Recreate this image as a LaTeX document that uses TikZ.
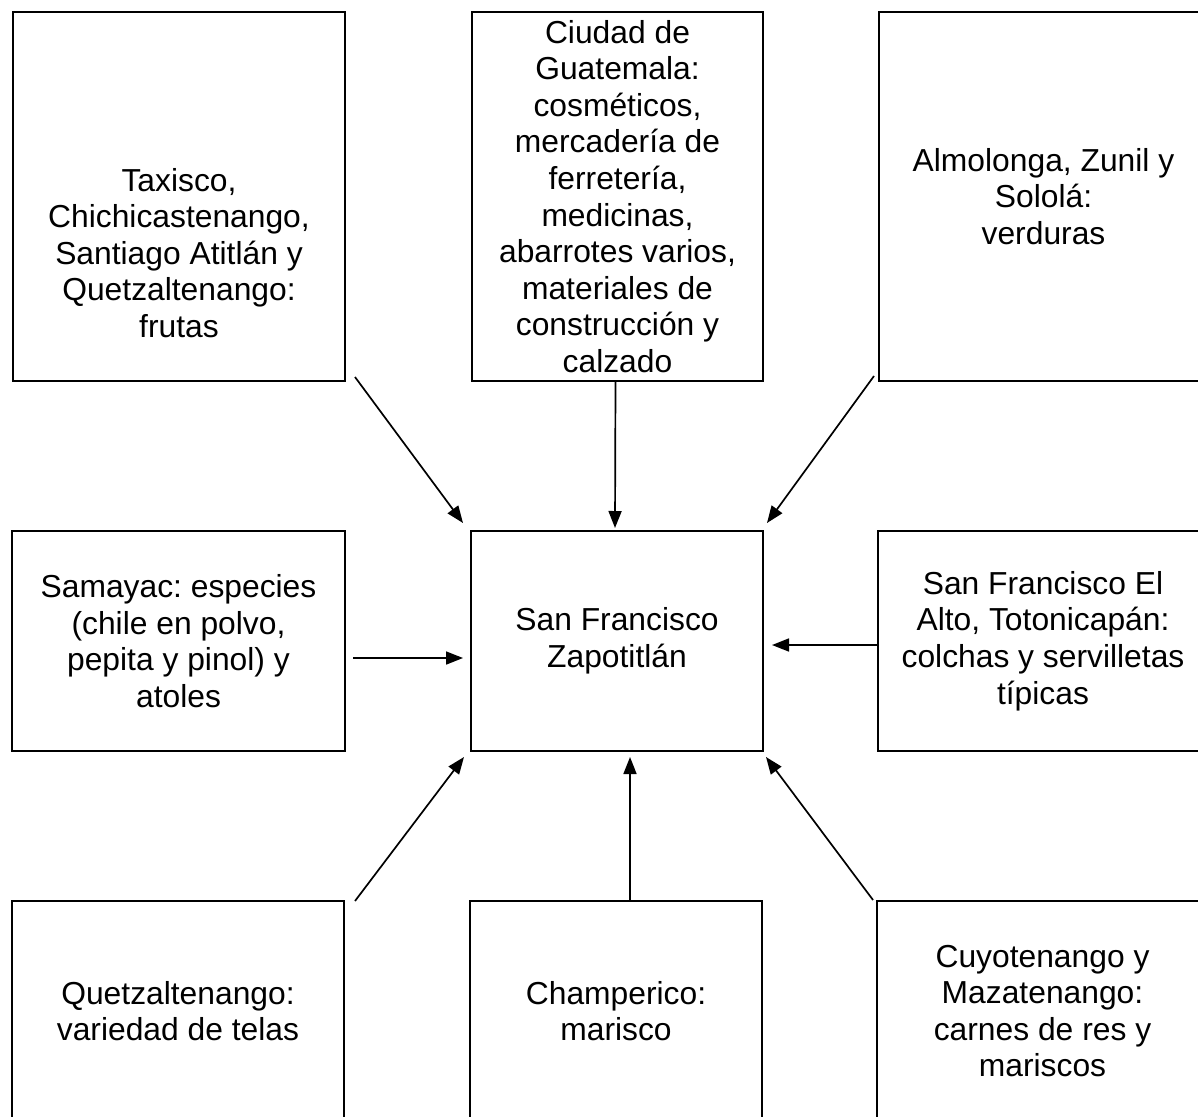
\documentclass[tikz,border=0pt]{standalone}
\usepackage{fontspec}
\setmainfont{Liberation Sans}
\usetikzlibrary{arrows.meta}
\frenchspacing
\begin{document}
\begin{tikzpicture}[x=1pt,y=-1pt,
  box/.style={draw=black, line width=1.3pt, inner sep=0pt, outer sep=0pt, align=center,
    font=\fontsize{31.8}{36.6}\selectfont},
  lbl/.style={inner sep=0pt, align=center, font=\fontsize{31.8}{36.6}\selectfont},
  arr/.style={line width=1.7pt, -{Triangle[length=17pt,width=13pt]}}]
\useasboundingbox (0,0) rectangle (1198,1116);
\clip (0,0) rectangle (1198,1116);
\fill[white] (0,0) rectangle (1198,1116);
% top row
\node[box, minimum width=332pt, minimum height=369pt] (tl) at (179,196.5) {};
\node[lbl] (tlt) at (179,253) {Taxisco,\\Chichicastenango,\\Santiago Atitlán y\\Quetzaltenango:\\frutas};
\node[box, minimum width=291pt, minimum height=369pt] (tc) at (617.5,196.5) {Ciudad de\\Guatemala:\\cosméticos,\\mercadería de\\ferretería,\\medicinas,\\abarrotes varios,\\materiales de\\construcción y\\calzado};
\node[box, minimum width=329pt, minimum height=369pt] (tr) at (1043.5,196.5) {Almolonga, Zunil y\\Sololá:\\verduras};
% middle row
\node[box, minimum width=333pt, minimum height=220pt] (ml) at (178.5,641) {Samayac: especies\\(chile en polvo,\\pepita y pinol) y\\atoles};
\node[box, minimum width=292pt, minimum height=220pt] (c) at (617,641) {San Francisco\\Zapotitlán};
\node[box, minimum width=330pt, minimum height=220pt] (mr) at (1043,641) {San Francisco El\\Alto, Totonicapán:\\colchas y servilletas\\típicas};
% bottom row
\node[box, minimum width=332pt, minimum height=220pt] (bl) at (178,1011) {Quetzaltenango:\\variedad de telas};
\node[box, minimum width=292pt, minimum height=220pt] (bc) at (616,1011) {Champerico:\\marisco};
\node[box, minimum width=331pt, minimum height=220pt] (br) at (1042.5,1011) {Cuyotenango y\\Mazatenango:\\carnes de res y\\mariscos};
% arrows
\draw[arr] ([shift={(10,-4)}]tl.south east) -- ([shift={(-8,-8)}]c.north west);
\draw[arr] ([shift={(-2,0)}]tc.south) -- ([shift={(-2,-3)}]c.north);
\draw[arr] ([shift={(-5,-5)}]tr.south west) -- ([shift={(4,-8)}]c.north east);
\draw[arr] ([shift={(8,17)}]ml.east) -- ([shift={(-8,17)}]c.west);
\draw[arr] ([shift={(0,4)}]mr.west) -- ([shift={(9,4)}]c.east);
\draw[arr] ([shift={(11,0)}]bl.north east) -- ([shift={(-7,6)}]c.south west);
\draw[arr] ([shift={(14,0)}]bc.north) -- ([shift={(13,6)}]c.south);
\draw[arr] ([shift={(-4,-1)}]br.north west) -- ([shift={(3,6)}]c.south east);
\end{tikzpicture}
\end{document}
